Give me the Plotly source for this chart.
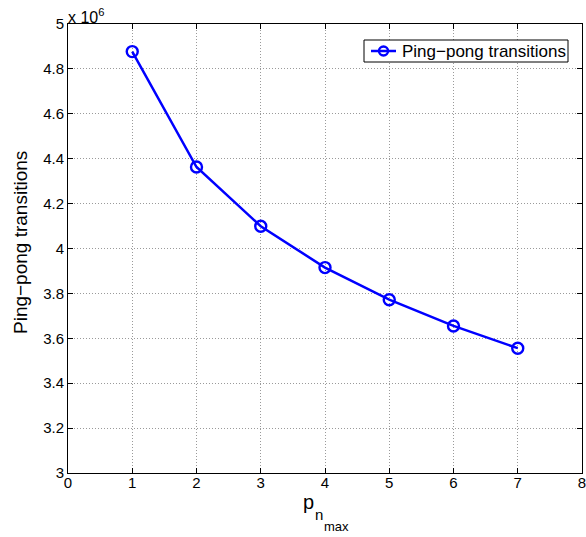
import plotly.graph_objects as go

# Ping-pong transitions versus the maximum number of ping-pong periods
p_nmax = [1, 2, 3, 4, 5, 6, 7]
transitions = [4.877e6, 4.363e6, 4.099e6, 3.915e6, 3.772e6, 3.655e6, 3.556e6]

x_ticks = [0, 1, 2, 3, 4, 5, 6, 7, 8]
y_ticks = [3.0, 3.2, 3.4, 3.6, 3.8, 4.0, 4.2, 4.4, 4.6, 4.8, 5.0]
y_tick_text = ["3", "3.2", "3.4", "3.6", "3.8", "4", "4.2", "4.4", "4.6", "4.8", "5"]
series_name = "Ping\u2212pong transitions"

FONT = "Liberation Sans, Arial, Helvetica, sans-serif"
BLUE = "#0000FF"

# plot area in pixels (figure is 586 x 537)
L, R, T, B = 68, 4, 24, 64
PW, PH = 586 - L - R, 537 - T - B


def px(x):
    return (x - L) / PW


def py(y):
    return 1 - (y - T) / PH


fig = go.Figure()
fig.add_trace(go.Scatter(
    x=p_nmax,
    y=[v / 1e6 for v in transitions],
    mode="lines+markers",
    name=series_name,
    showlegend=False,
    line=dict(color=BLUE, width=2.5),
    marker=dict(symbol="circle-open", size=11, color=BLUE,
                line=dict(width=2.4, color=BLUE)),
))

axis_common = dict(
    showline=True, linecolor="black", linewidth=1,
    mirror="ticks", ticks="inside", ticklen=5, tickcolor="black",
    showgrid=True, gridcolor="#9a9a9a", griddash="1px,2px", gridwidth=1,
    zeroline=False, ticklabeloverflow="allow", automargin=False,
    tickfont=dict(family=FONT, size=15, color="black"),
)

fig.update_xaxes(range=[0, 8], tickvals=x_ticks, ticklabelstandoff=-4,
                 **axis_common)
fig.update_yaxes(range=[3, 5], tickvals=y_ticks, ticktext=y_tick_text,
                 **axis_common)

# y axis label
fig.add_annotation(text=series_name, xref="paper", yref="paper",
                   x=px(20), y=py(243), xanchor="center", yanchor="middle",
                   textangle=-90, showarrow=False,
                   font=dict(family=FONT, size=19, color="black"))

# exponent of the y axis scale
fig.add_annotation(text="x 10<sup>6</sup>", xref="paper", yref="paper",
                   x=0.0, y=1.0, xanchor="left", yanchor="bottom",
                   showarrow=False, xshift=-2, yshift=-4,
                   font=dict(family=FONT, size=16, color="black"))

# x axis label p_{n_max}, built from three stacked pieces
fig.add_annotation(text="p", xref="paper", yref="paper",
                   x=px(308), y=0, xanchor="center", yanchor="top",
                   showarrow=False, yshift=-16,
                   font=dict(family=FONT, size=20, color="black"))
fig.add_annotation(text="n", xref="paper", yref="paper",
                   x=px(319), y=0, xanchor="center", yanchor="top",
                   showarrow=False, yshift=-31,
                   font=dict(family=FONT, size=15, color="black"))
fig.add_annotation(text="max", xref="paper", yref="paper",
                   x=px(336), y=0, xanchor="center", yanchor="top",
                   showarrow=False, yshift=-44,
                   font=dict(family=FONT, size=13, color="black"))

# legend box: frame, sample line with marker, and label
lx0, lx1, ly0, ly1 = 364, 568, 40, 62
ymid = (ly0 + ly1) / 2
fig.add_shape(type="rect", xref="paper", yref="paper",
              x0=px(lx0), x1=px(lx1), y0=py(ly1), y1=py(ly0),
              line=dict(color="black", width=1), fillcolor="white",
              layer="above")
fig.add_shape(type="line", xref="paper", yref="paper",
              x0=px(371), x1=px(396), y0=py(ymid), y1=py(ymid),
              line=dict(color=BLUE, width=2.5), layer="above")
fig.add_shape(type="circle", xref="paper", yref="paper",
              xsizemode="pixel", ysizemode="pixel",
              xanchor=px(383.5), yanchor=py(ymid),
              x0=-4.5, x1=4.5, y0=-4.5, y1=4.5,
              line=dict(color=BLUE, width=2.4), fillcolor="rgba(0,0,0,0)",
              layer="above")
fig.add_annotation(text=series_name, xref="paper", yref="paper",
                   x=px(400), y=py(ymid), xanchor="left", yanchor="middle",
                   showarrow=False,
                   font=dict(family=FONT, size=17, color="black"))

fig.update_layout(
    width=586, height=537,
    margin=dict(l=L, r=R, t=T, b=B),
    paper_bgcolor="white", plot_bgcolor="white",
    showlegend=False,
    font=dict(family=FONT, color="black"),
)

fig.write_html("out.html")
